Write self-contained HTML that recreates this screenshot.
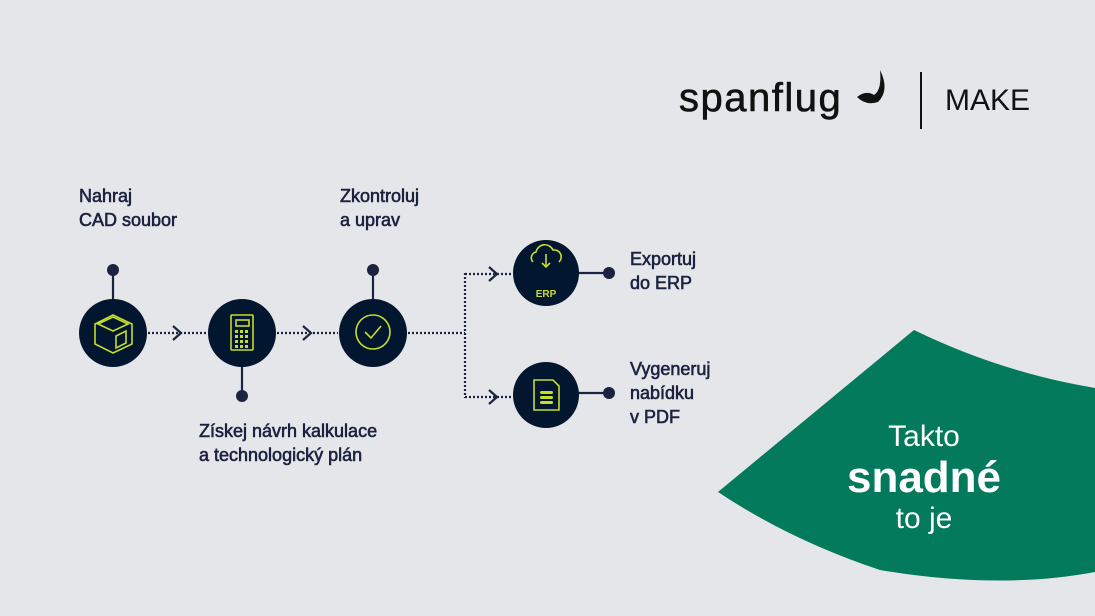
<!DOCTYPE html>
<html><head><meta charset="utf-8"><style>
html,body{margin:0;padding:0}
body{width:1095px;height:616px;background:#e5e6e9;position:relative;overflow:hidden;font-family:"Liberation Sans",sans-serif;color:#1b2340}
.t{position:absolute;font-size:18px;line-height:24px;white-space:nowrap;-webkit-text-stroke:0.6px #1b2340}
svg{position:absolute;left:0;top:0}
</style></head><body>
<svg width="1095" height="616" viewBox="0 0 1095 616">
<path d="M914,330 Q1000,372 1095,388 L1095,572 Q1000,590 880,570 Q790,540 718,492 Z" fill="#027a5b"/>
<g stroke="#1b2340" stroke-width="2.2" stroke-dasharray="2,2" fill="none">
<line x1="148" y1="333" x2="208" y2="333"/>
<line x1="277" y1="333" x2="338" y2="333"/>
<line x1="408" y1="333" x2="465" y2="333"/>
<line x1="465" y1="273" x2="465" y2="398"/>
<line x1="465" y1="274" x2="512" y2="274"/>
<line x1="465" y1="397" x2="512" y2="397"/>
</g>
<g stroke="#1b2340" stroke-width="2.2" fill="none">
<polyline points="173,326 181,333 173,340"/>
<polyline points="303,326 311,333 303,340"/>
<polyline points="489,267 497,274 489,281"/>
<polyline points="489,390 497,397 489,404"/>
<line x1="113" y1="270" x2="113" y2="300"/>
<line x1="373" y1="270" x2="373" y2="300"/>
<line x1="242" y1="366" x2="242" y2="396"/>
<line x1="578" y1="273" x2="609" y2="273"/>
<line x1="578" y1="393" x2="609" y2="393"/>
</g>
<g fill="#1b2340">
<circle cx="113" cy="270" r="6"/><circle cx="373" cy="270" r="6"/><circle cx="242" cy="396" r="6"/>
<circle cx="609" cy="273" r="6"/><circle cx="609" cy="393" r="6"/>
</g>
<g fill="#03162f">
<circle cx="113" cy="333" r="34"/><circle cx="242" cy="333" r="34"/><circle cx="373" cy="333" r="34"/>
<circle cx="546" cy="273" r="33"/><circle cx="546" cy="395" r="33"/>
</g>
<g stroke="#c6dc2a" stroke-width="1.6" fill="none">
<path d="M113,315 L132,324 L132,344 L113,353 L95,344 L95,324 Z"/>
<path d="M98,324 L113,317 L128,324 L113,331 Z"/>
<path d="M116,336 L126,331 L126,343 L116,348 Z"/>
<rect x="231" y="315" width="22" height="35" rx="1"/>
<rect x="236" y="320" width="13" height="6"/>
<circle cx="373" cy="332" r="17"/>
<polyline points="365,332 371,338 381,326"/>
<path d="M533,262 a6,6 0 0 1 3,-10 a9,9 0 0 1 17,-2 a7,7 0 0 1 6,12"/>
<line x1="546" y1="254" x2="546" y2="267"/><polyline points="542,263 546,267 550,263"/>
<path d="M534,380 L553,380 L559,386 L559,410 L534,410 Z"/>
</g>
<g fill="#c6dc2a">
<rect x="235" y="330" width="3" height="3"/><rect x="240" y="330" width="3" height="3"/><rect x="245" y="330" width="3" height="3"/>
<rect x="235" y="335" width="3" height="3"/><rect x="240" y="335" width="3" height="3"/><rect x="245" y="335" width="3" height="3"/>
<rect x="235" y="340" width="3" height="3"/><rect x="240" y="340" width="3" height="3"/><rect x="245" y="340" width="3" height="3"/>
<rect x="235" y="345" width="3" height="3"/><rect x="240" y="345" width="3" height="3"/><rect x="245" y="345" width="3" height="3"/>
<rect x="540" y="391" width="13" height="3" rx="1.5"/><rect x="540" y="396" width="13" height="3" rx="1.5"/><rect x="540" y="401" width="13" height="3" rx="1.5"/>
<text x="546" y="297" font-size="10" font-weight="bold" text-anchor="middle" font-family="Liberation Sans">ERP</text>
</g>
<line x1="921" y1="72" x2="921" y2="129" stroke="#111" stroke-width="2"/>
<path d="M857,97 Q866,90 874,95 Q882,90 880,70 Q890,90 878,102 Q866,106 857,97 Z" fill="#111"/>
</svg>
<div class="t" style="left:79px;top:184px">Nahraj<br>CAD soubor</div>
<div class="t" style="left:340px;top:184px">Zkontroluj<br>a uprav</div>
<div class="t" style="left:199px;top:419px">Získej návrh kalkulace<br>a technologický plán</div>
<div class="t" style="left:630px;top:247px">Exportuj<br>do ERP</div>
<div class="t" style="left:630px;top:357px">Vygeneruj<br>nabídku<br>v PDF</div>
<div style="position:absolute;left:679px;top:76px;font-size:40px;color:#111;letter-spacing:1.5px;-webkit-text-stroke:0.6px #111">spanflug</div>
<div style="position:absolute;left:945px;top:84px;font-size:30px;color:#111">MAKE</div>
<div style="position:absolute;left:824px;top:420px;width:200px;text-align:center;color:#fff">
<div style="font-size:30px;line-height:34px">Takto</div>
<div style="font-size:44px;line-height:48px;font-weight:bold">snadné</div>
<div style="font-size:30px;line-height:34px">to je</div>
</div>
</body></html>
